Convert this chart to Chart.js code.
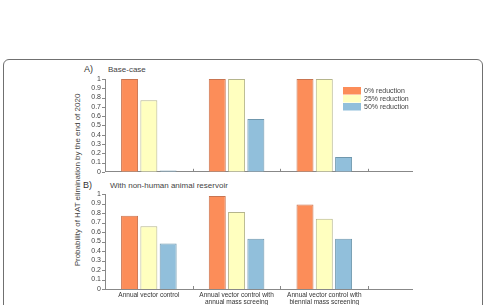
<!DOCTYPE html>
<html lang="en">
<head>
<meta charset="UTF-8">
<title>Probability of HAT elimination by the end of 2020</title>
<script src="https://cdn.jsdelivr.net/npm/chart.js"></script>
<style>
  body { margin: 0; background: #fff; width: 485px; height: 305px; overflow: hidden; position: relative;
         font-family: "Liberation Sans", Arial, sans-serif; color: #444; }
  .frame { position: absolute; left: 3px; top: 59px; width: 478px; height: 290px;
           border: 1px solid #707070; border-radius: 6px; }
  canvas { position: absolute; left: 60px; }
  #chartA { top: 60px; }
  #chartB { top: 180px; }
  .ytitle { position: absolute; left: 77px; top: 180px; transform: translate(-50%, -50%) rotate(-90deg);
            white-space: nowrap; font-size: 8px; color: #444; }
  .tag { position: absolute; font-size: 9px; font-weight: normal; color: #333; }
  .sub { position: absolute; font-size: 8px; font-weight: normal; }
</style>
</head>
<body>
<div class="frame"></div>
<div class="tag" style="left:84px; top:64px;">A)</div>
<div class="sub" style="left:108px; top:65px;">Base-case</div>
<div class="tag" style="left:83px; top:180px;">B)</div>
<div class="sub" style="left:110px; top:181px;">With non-human animal reservoir</div>
<div class="ytitle">Probability of HAT elimination by the end of 2020</div>
<canvas id="chartA" width="360" height="120"></canvas>
<canvas id="chartB" width="360" height="125"></canvas>

<script>
    // データ
    const groups = [
        'Annual vector control',
        ['Annual vector control with', 'annual mass screeing'],
        ['Annual vector control with', 'biennial mass screening']
    ];
    const groupX = [1, 2, 3];
    const xTickMarks = [1.5, 2.5, 3.5];
    const seriesNames = ['0% reduction', '25% reduction', '50% reduction'];
    const baseCase0 = [1.0, 1.0, 1.0];
    const baseCase25 = [0.77, 1.0, 1.0];
    const baseCase50 = [0.015, 0.57, 0.16];
    const reservoir0 = [0.77, 0.98, 0.89];
    const reservoir25 = [0.66, 0.81, 0.74];
    const reservoir50 = [0.48, 0.53, 0.53];
    const yTicks = [0, 0.1, 0.2, 0.3, 0.4, 0.5, 0.6, 0.7, 0.8, 0.9, 1];

    const fills = ['#fc8d59', '#ffffbf', '#91bfdb'];
    const edges = ['#c97450', '#b5b58c', '#6f97ad'];

    Chart.defaults.font.family = '"Liberation Sans", Arial, sans-serif';
    Chart.defaults.font.size = 7;
    Chart.defaults.color = '#444';

    // 軸の目盛り線
    const tickMarks = {
        id: 'tickMarks',
        afterDraw(chart) {
            const { ctx, scales: { x, y } } = chart;
            ctx.save();
            ctx.strokeStyle = '#888';
            ctx.lineWidth = 1;
            ctx.beginPath();
            yTicks.forEach(v => {
                const py = Math.round(y.getPixelForValue(v)) + 0.5;
                ctx.moveTo(x.left - 3, py);
                ctx.lineTo(x.left, py);
            });
            xTickMarks.forEach(v => {
                const px = Math.round(x.getPixelForValue(v)) + 0.5;
                ctx.moveTo(px, y.bottom);
                ctx.lineTo(px, y.bottom - 3);
            });
            ctx.stroke();
            ctx.restore();
        }
    };

    // グラフ内の凡例
    const insideLegend = {
        id: 'insideLegend',
        afterDraw(chart, args, opts) {
            if (!opts.show) return;
            const ctx = chart.ctx;
            ctx.save();
            ctx.font = '7px "Liberation Sans", Arial, sans-serif';
            ctx.textBaseline = 'middle';
            chart.data.datasets.forEach((ds, i) => {
                const top = opts.y + i * 8;
                ctx.fillStyle = ds.backgroundColor;
                ctx.fillRect(opts.x, top, 18, 7.5);
                ctx.fillStyle = '#444';
                ctx.fillText(ds.label, opts.x + 21, top + 4);
            });
            ctx.restore();
        }
    };

    function makeChart(id, series, showLabels, pad, xHeight) {
        return new Chart(document.getElementById(id), {
            type: 'bar',
            data: {
                datasets: series.map((vals, i) => ({
                    label: seriesNames[i],
                    data: groupX.map((x, j) => ({ x: x, y: vals[j] })),
                    backgroundColor: fills[i],
                    borderColor: edges[i],
                    borderWidth: 1,
                    categoryPercentage: 0.66,
                    barPercentage: 0.88
                }))
            },
            options: {
                responsive: false,
                animation: false,
                layout: { padding: { top: pad, right: 8, left: 0, bottom: 0 } },
                scales: {
                    x: {
                        type: 'linear',
                        min: 0.5,
                        max: 4,
                        offset: false,
                        afterBuildTicks: s => { s.ticks = groupX.map(v => ({ value: v })); },
                        afterFit: s => { s.height = xHeight; },
                        grid: { display: false, drawTicks: false, offset: false },
                        border: { display: true, color: '#888' },
                        ticks: {
                            display: showLabels,
                            padding: 2,
                            maxRotation: 0,
                            autoSkip: false,
                            font: { size: 6.5 },
                            color: '#333',
                            callback: (v, i) => groups[i]
                        }
                    },
                    y: {
                        min: 0,
                        max: 1,
                        afterBuildTicks: s => { s.ticks = yTicks.map(v => ({ value: v })); },
                        afterFit: s => { s.width = 45; },
                        grid: { display: false, drawTicks: false },
                        border: { display: true, color: '#888' },
                        ticks: { padding: 4, autoSkip: false, callback: v => String(v) }
                    }
                },
                plugins: {
                    legend: { display: false },
                    tooltip: { enabled: true },
                    insideLegend: { show: !showLabels, x: 283, y: 27 }
                }
            },
            plugins: [tickMarks, insideLegend]
        });
    }

    makeChart('chartA', [baseCase0, baseCase25, baseCase50], false, 19, 7);
    makeChart('chartB', [reservoir0, reservoir25, reservoir50], true, 14, 16);
</script>
</body>
</html>
